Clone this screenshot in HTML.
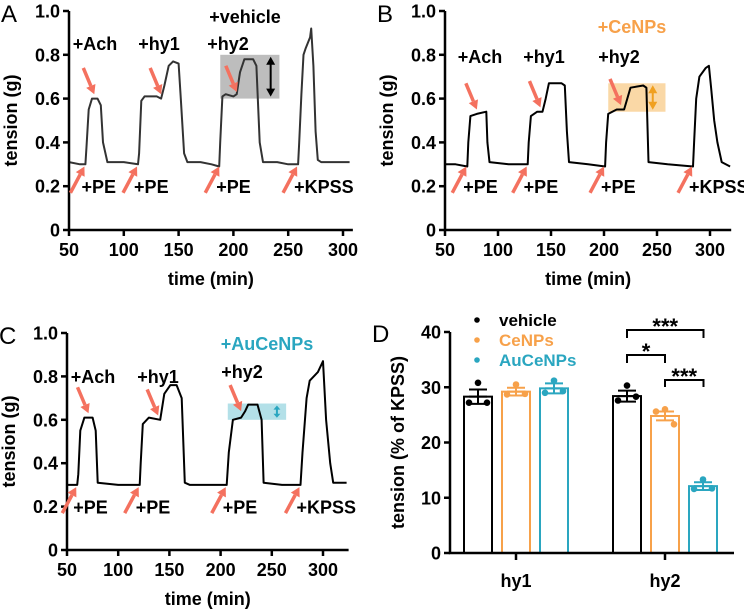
<!DOCTYPE html>
<html><head><meta charset="utf-8">
<style>
html,body{margin:0;padding:0;background:#fff;}
svg{display:block;font-family:"Liberation Sans",Arial,sans-serif;}
</style></head>
<body>
<svg id="fig" width="744" height="615" viewBox="0 0 744 615" xmlns="http://www.w3.org/2000/svg"></svg>
<script>
// ---- Trace data (time min, tension g) ----
const traceATimes=[50,60,65,66,68,71,76,79,81,85,100,113,114,116,119,130,134,137,141,145,150,152,155,158,170,180,187,188,190,193,200,203,206,210,218,221,224,227,240,250,259,260,262,264,266,270,271,273,275,277,280,290,306];
const traceAVals=[.31,.30,.30,.38,.55,.60,.60,.57,.40,.31,.31,.30,.35,.59,.61,.61,.60,.66,.75,.77,.76,.60,.35,.31,.31,.30,.29,.40,.61,.62,.61,.62,.72,.78,.78,.75,.40,.31,.31,.30,.30,.40,.62,.80,.83,.88,.92,.75,.45,.32,.31,.31,.31];
const traceBTimes=[50,60,71,72,74,80,89,90,92,110,128,129,131,137,142,145,148,160,163,165,167,185,201,202,204,212,219,222,225,237,240,242,260,284,285,287,290,296,299,301,304,307,311,319];
const traceBVals=[.30,.30,.29,.40,.52,.53,.54,.40,.31,.30,.30,.40,.52,.54,.54,.60,.67,.67,.66,.45,.31,.30,.29,.40,.53,.55,.55,.60,.65,.66,.65,.31,.30,.29,.40,.60,.70,.74,.75,.65,.50,.40,.31,.29];
const traceCTimes=[50,60,61,63,67,75,78,80,100,121,122,124,130,141,145,151,157,162,165,170,186,206,208,212,220,224,227,236,240,242,260,278,280,284,287,295,300,303,307,310,323];
const traceCVals=[.30,.30,.35,.55,.61,.61,.55,.31,.30,.30,.40,.58,.61,.60,.72,.76,.76,.70,.31,.30,.30,.30,.45,.60,.61,.64,.67,.67,.60,.31,.30,.30,.45,.70,.78,.82,.87,.60,.40,.31,.31];
// ---- Bar chart data ----
const barCategories=["hy1","hy2"];
const barSeries=["vehicle","CeNPs","AuCeNPs"];
const barMeans=[[28.3,29.2,29.8],[28.4,24.8,12.1]];
const barErrors=[[1.3,0.7,0.9],[1.0,0.8,0.7]];
const barPoints=[[[30.8,27.2,27.2],[30.5,28.7,28.8],[31.2,29.0,29.3]],[[30.3,27.6,28.3],[26.0,25.6,23.3],[13.3,11.6,11.7]]];
const yTicksTrace=[0,0.2,0.4,0.6,0.8,1.0];
const yTickLabelsTrace=["0","0.2","0.4","0.6","0.8","1.0"];
const xTicksTrace=[50,100,150,200,250,300];
const yTicksBar=[0,10,20,30,40];

const NS="http://www.w3.org/2000/svg";
const svg=document.getElementById('fig');
function mk(tag,attrs,parent){const e=document.createElementNS(NS,tag);for(const k in attrs)e.setAttribute(k,attrs[k]);(parent||svg).appendChild(e);return e;}
function txt(s,x,y,size,fill,anchor,parent){const t=mk('text',{x:x,y:y,'font-size':size,'font-weight':'bold',fill:fill||'#000','text-anchor':anchor||'middle'},parent);t.textContent=s;return t;}
const RED='#f4715f';
const FS=18;
function arrow(x1,y1,x2,y2,parent){
  const dx=x2-x1,dy=y2-y1,L=Math.hypot(dx,dy),ux=dx/L,uy=dy/L,h=9,w=5;
  const bx=x2-ux*h,by=y2-uy*h;
  const l=mk('line',{x1:x1,y1:y1,x2:bx,y2:by,stroke:RED,'stroke-width':3.5},parent);
  
  
  const p=mk('polygon',{points:`${x2},${y2} ${bx-uy*w},${by+ux*w} ${bx+uy*w},${by-ux*w}`,fill:RED},parent);
  
  
}

function tracePanel(cfg){
  const g=mk('g',{});
  
  
  const xs=t=>cfg.x0+(t-50)*cfg.kx;
  const ys=v=>cfg.y0-v*cfg.ky;
  if(cfg.box){const b=cfg.box;const r=mk('rect',{x:xs(b[0]),y:ys(b[3]),width:xs(b[1])-xs(b[0]),height:ys(b[2])-ys(b[3]),fill:b[4]},g);
    
    const ax=xs(b[5]);const a1=ys(b[3])+2,a2=ys(b[2])-2;
    const hl=Math.min(8,(a2-a1)/3),hw=Math.min(4.5,hl*0.6+1);
    const dl=mk('line',{x1:ax,y1:a1+hl-1,x2:ax,y2:a2-hl+1,stroke:b[6],'stroke-width':2},g);
    
    mk('polygon',{points:`${ax},${a1} ${ax-hw},${a1+hl} ${ax+hw},${a1+hl}`,fill:b[6]},g);
    mk('polygon',{points:`${ax},${a2} ${ax-hw},${a2-hl} ${ax+hw},${a2-hl}`,fill:b[6]},g);
  }
  const d=cfg.times.map((t,i)=>(i?'L':'M')+xs(t).toFixed(1)+','+ys(cfg.vals[i]).toFixed(1)).join('');
  const p=mk('path',{d:d,fill:'none',stroke:cfg.color,'stroke-width':2,'stroke-linejoin':'round'},g);
  
  const ax=mk('path',{d:`M${cfg.x0},${ys(1.0)}V${cfg.y0}H${xs(cfg.xmax)}`,fill:'none',stroke:'#000','stroke-width':2.5},g);
  
  yTicksTrace.forEach((v,i)=>{mk('line',{x1:cfg.x0-6,x2:cfg.x0,y1:ys(v),y2:ys(v),stroke:'#000','stroke-width':2.5},g);
    const t=txt(yTickLabelsTrace[i],cfg.x0-9,ys(v)+6.5,FS,'#000','end',g);});
  xTicksTrace.forEach(v=>{mk('line',{x1:xs(v),x2:xs(v),y1:cfg.y0,y2:cfg.y0+6,stroke:'#000','stroke-width':2.5},g);
    const t=txt(String(v),xs(v),cfg.y0+26,FS,'#000','middle',g);});
  let t=txt('time (min)',xs(cfg.xmax)/2+cfg.x0/2,cfg.y0+55,FS,'#000','middle',g);
  t=txt('tension (g)',0,0,FS,'#000','middle',g);t.setAttribute('transform',`translate(${cfg.x0-52},${ys(0.5)}) rotate(-90)`);
  t=mk('text',{x:cfg.x0-68,y:ys(1.0)+11,'font-size':24,fill:'#000'},g);t.textContent=cfg.letter;
  cfg.rises.forEach((r,i)=>{arrow(xs(r)-15,ys(0.17),xs(r)-1,ys(0.29),g);
    const l=txt(i<3?'+PE':'+KPSS',xs(r)-4,ys(0.2)+7,FS,'#000','start',g);});
  cfg.drugs.forEach((r,i)=>{arrow(xs(r[0])-12,ys(r[1]+0.14),xs(r[0])-1,ys(r[1]+0.02),g);
    const l=txt(['+Ach','+hy1','+hy2'][i],r[3],r[2],FS,'#000','middle',g);});
  t=txt(cfg.treat,cfg.treatX,cfg.treatY,FS,cfg.treatColor,'middle',g);
}

tracePanel({name:'panel-a',letter:'A',x0:69,y0:230,kx:1.096,ky:219,xmax:309,times:traceATimes,vals:traceAVals,color:'#333',
  box:[188,242,0.6,0.8,'#bdbdbd',234,'#000'],rises:[65,113,188,259],drugs:[[74,0.6,50,95],[135,0.6,50,159],[204,0.61,50,228]],
  treat:'+vehicle',treatX:245,treatY:23,treatColor:'#000'});
tracePanel({name:'panel-b',letter:'B',x0:445,y0:230,kx:1.06,ky:219,xmax:320,times:traceBTimes,vals:traceBVals,color:'#000',
  box:[204,258,0.54,0.67,'#fad8a6',246,'#f0a020'],rises:[71,128,201,284],drugs:[[81,0.53,63,480],[141,0.54,63,544],[217,0.55,63,619]],
  treat:'+CeNPs',treatX:632,treatY:33,treatColor:'#f7a14a'});
tracePanel({name:'panel-c',letter:'C',x0:67,y0:550,kx:1.024,ky:217,xmax:325,times:traceCTimes,vals:traceCVals,color:'#000',
  box:[207,264,0.6,0.675,'#b3e0e8',255,'#2aa6c0'],rises:[60,121,206,278],drugs:[[72,0.61,383,93],[140,0.6,383,158],[221,0.62,378,242]],
  treat:'+AuCeNPs',treatX:267,treatY:350,treatColor:'#2aa6c0'});

// ---- Panel D bar chart ----
(function(){
  const g=mk('g',{});
  
  
  const x0=450,y0=553,ky=221/40,centers=[516,665],off=[-38,0,38],bw=28;
  const colors=['#000','#f7a14a','#2aa6c0'];
  const ys=v=>y0-v*ky;
  barCategories.forEach((c,ci)=>{
    barSeries.forEach((s,si)=>{
      const cx=centers[ci]+off[si],m=barMeans[ci][si],e=barErrors[ci][si];
      const r=mk('rect',{x:cx-bw/2,y:ys(m),width:bw,height:y0-ys(m),fill:'#fff',stroke:colors[si],'stroke-width':2},g);
      
      const eb=mk('path',{d:`M${cx},${ys(m-e)}V${ys(m+e)}M${cx-9},${ys(m+e)}H${cx+9}M${cx-9},${ys(m-e)}H${cx+9}M${cx-9},${ys(m)}H${cx+9}`,stroke:colors[si],'stroke-width':2,fill:'none'},g);
      
      const dx=[0,-9,9];
      barPoints[ci][si].forEach((v,pi)=>{const d=mk('circle',{cx:cx+dx[pi],cy:ys(v),r:3.3,fill:colors[si]},g);
        });
    });
    mk('line',{x1:centers[ci],x2:centers[ci],y1:y0,y2:y0+7,stroke:'#000','stroke-width':2.5},g);
    const t=txt(c,centers[ci],y0+34,FS,'#000','middle',g);
  });
  const ax=mk('path',{d:`M${x0},${ys(40)}V${y0}H734`,fill:'none',stroke:'#000','stroke-width':2.5},g);
  
  yTicksBar.forEach(v=>{mk('line',{x1:x0-6,x2:x0,y1:ys(v),y2:ys(v),stroke:'#000','stroke-width':2.5},g);
    const t=txt(String(v),x0-9,ys(v)+6.5,FS,'#000','end',g);});
  let t=txt('tension (% of KPSS)',0,0,FS,'#000','middle',g);t.setAttribute('transform',`translate(404,${ys(20)}) rotate(-90)`);
  t=mk('text',{x:372,y:342,'font-size':24,fill:'#000'},g);t.textContent='D';
  barSeries.forEach((s,si)=>{const y=320+si*20;
    mk('circle',{cx:477,cy:y,r:2.8,fill:colors[si]},g);
    const l=txt(s,499,y+6,17,colors[si],'start',g);});
  const br=[[627,703.5,330,8,'***'],[627,665,355,8,'*'],[665,703.5,380,7,'***']];
  br.forEach(b=>{const p=mk('path',{d:`M${b[0]},${b[2]+b[3]}V${b[2]}H${b[1]}V${b[2]+b[3]}`,fill:'none',stroke:'#000','stroke-width':2},g);
    
    const s=txt(b[4],(b[0]+b[1])/2,b[2]+4,22,'#000','middle',g);});
})();
</script>
</body></html>
